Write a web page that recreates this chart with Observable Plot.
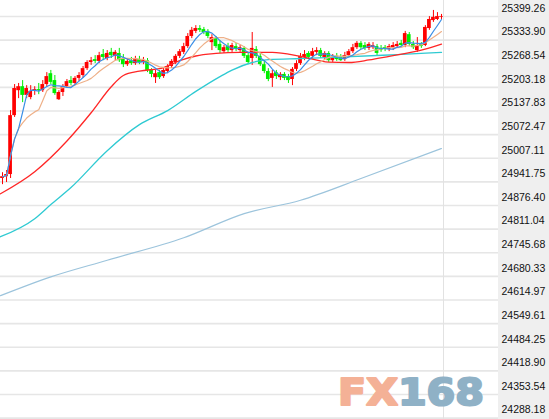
<!DOCTYPE html>
<html><head><meta charset="utf-8">
<script src="https://cdn.jsdelivr.net/npm/d3@7"></script>
<script src="https://cdn.jsdelivr.net/npm/@observablehq/plot@0.6"></script>
<style>
html,body{margin:0;padding:0;background:#fff;}
#wrap{position:relative;width:549px;height:419px;overflow:hidden;}
#wm{position:absolute;left:0;top:0;pointer-events:none;}
</style></head><body><div id="wrap"></div>
<script>
const open = [
24951,24956,24962,25125,25194,25205,25181,25175,25192,25197,
25194,25211,25241,25222,25169,25189,25205,25222,25214,25228,
25236,25255,25272,25280,25275,25294,25283,25300,25289,25297,
25283,25266,25277,25269,25280,25272,25277,25250,25230,25244,
25233,25247,25261,25272,25289,25300,25316,25344,25358,25366,
25363,25358,25327,25338,25322,25302,25316,25305,25316,25305,
25311,25291,25283,25308,25289,25266,25247,25228,25244,25230,
25239,25233,25225,25253,25269,25286,25297,25289,25300,25305,
25286,25297,25277,25289,25286,25280,25291,25302,25313,25325,
25319,25311,25313,25316,25311,25313,25308,25311,25316,25325,
25319,25349,25322,25305,25322,25319,25366,25388,25391,25397];
const high = [
24967,24973,25139,25211,25214,25222,25208,25208,25205,25214,
25222,25244,25250,25236,25194,25211,25225,25233,25233,25244,
25261,25277,25286,25291,25300,25308,25305,25311,25305,25311,
25294,25283,25286,25289,25289,25286,25283,25255,25250,25250,
25255,25266,25280,25294,25308,25325,25352,25369,25374,25374,
25369,25363,25349,25344,25333,25319,25325,25325,25325,25319,
25316,25300,25355,25316,25300,25277,25255,25250,25250,25244,
25244,25239,25258,25277,25297,25305,25302,25311,25313,25311,
25302,25302,25294,25297,25294,25300,25308,25322,25330,25330,
25327,25327,25327,25322,25319,25319,25322,25327,25330,25333,
25358,25355,25330,25341,25327,25374,25399,25416,25410,25405];
const low = [
24934,24940,24951,25120,25172,25161,25172,25169,25181,25183,
25189,25203,25211,25181,25167,25178,25200,25208,25208,25219,
25228,25250,25264,25269,25269,25277,25277,25283,25277,25272,
25258,25261,25264,25264,25266,25266,25244,25230,25214,25225,
25228,25241,25255,25266,25283,25294,25311,25338,25352,25355,
25349,25338,25305,25311,25297,25297,25300,25300,25302,25300,
25283,25266,25264,25283,25261,25241,25219,25203,25225,25222,
25222,25214,25208,25247,25264,25277,25280,25283,25291,25283,
25280,25272,25272,25275,25275,25275,25286,25297,25308,25308,
25305,25305,25308,25291,25300,25302,25302,25305,25311,25316,
25313,25316,25308,25300,25311,25316,25361,25383,25388,25391];
const close = [
24956,24962,25125,25200,25205,25181,25200,25192,25197,25194,
25211,25233,25217,25186,25189,25205,25219,25214,25228,25236,
25255,25272,25277,25275,25291,25286,25297,25291,25300,25277,
25266,25275,25269,25280,25272,25277,25250,25239,25241,25230,
25250,25261,25275,25289,25302,25316,25344,25361,25366,25361,
25355,25344,25341,25316,25305,25313,25305,25319,25308,25313,
25289,25272,25311,25289,25266,25247,25225,25241,25233,25239,
25228,25222,25253,25269,25289,25294,25286,25302,25305,25289,
25297,25277,25286,25280,25277,25291,25302,25313,25325,25313,
25311,25322,25319,25297,25305,25308,25316,25319,25322,25319,
25352,25322,25313,25319,25316,25369,25391,25397,25399,25399];

const tickValues = [25399.26,25333.90,25268.54,25203.18,25137.83,25072.47,25007.11,24941.75,24876.40,24811.04,24745.68,24680.33,24614.97,24549.61,24484.25,24418.90,24353.54,24288.18];

const maRedIdx = [-0.5,8,16,22,27,30,34,40,44,48,53,59,67,74,81,86,91,96,104,109];
const maRedVal = [24909,24970,25055,25133,25205,25236,25248,25258,25277,25290,25297,25300,25300,25289,25273,25272,25279,25289,25306,25323];
const maCyanIdx = [-0.5,8,12,17,26,34,41,48,54,57,62,66,74,82,98,109];
const maCyanVal = [24790,24840,24879,24926,25028,25100,25139,25192,25233,25251,25272,25280,25283,25286,25294,25300];
const maLightIdx = [-0.5,12,26,45,60,74,89,109];
const maLightVal = [24627,24679,24725,24787,24854,24891,24951,25034];

const N = close.length;
const candles = close.map((c, i) => ({i, o: open[i], h: high[i], l: low[i], c}));
const pts = (idx, val) => idx.map((i, k) => ({i, v: val[k]}));
const upCol = "#ff0000", downCol = "#00ee00";
const col = d => d.c >= d.o ? upCol : downCol;

const chart = Plot.plot({
  width: 549, height: 419,
  marginLeft: 0, marginRight: 51, marginTop: 0, marginBottom: 0,
  style: {background: "linear-gradient(to right,#ffffff 0px,#ffffff 498px,#efefef 498px)", fontFamily: "'Liberation Sans', Arial, sans-serif", fontSize: "10.5px", color: "#111"},
  x: {type: "linear", domain: [-0.5, N - 0.5], range: [0, 443], axis: null},
  y: {domain: [24288.18, 25399.26], range: [417.6, 16], axis: null},
  color: {type: "identity"},
  marks: [
    Plot.ruleY(tickValues, {stroke: "#e6e6e6", strokeWidth: 1.6}),
    Plot.ruleX([N - 0.5], {stroke: "#e2e2e2", strokeWidth: 1}),
    Plot.text(tickValues, {y: d => d, text: d => d.toFixed(2), frameAnchor: "right", textAnchor: "start", dx: 3, dy: -8, fill: "#111"}),
    Plot.ruleX(candles, {x: "i", y1: "l", y2: "h", stroke: col, strokeWidth: 1}),
    Plot.rect(candles, {x1: d => d.i - 0.46, x2: d => d.i + 0.46, y1: "o", y2: "c", fill: col}),
    Plot.line(pts(maLightIdx, maLightVal), {x: "i", y: "v", stroke: "#9cc4dc", strokeWidth: 1.2, curve: "monotone-x"}),
    Plot.line(pts(maCyanIdx, maCyanVal), {x: "i", y: "v", stroke: "#2fcad2", strokeWidth: 1.3, curve: "monotone-x"}),
    Plot.line(pts(maRedIdx, maRedVal), {x: "i", y: "v", stroke: "#ff2626", strokeWidth: 1.3, curve: "monotone-x"}),
    Plot.lineY(candles, Plot.windowY({k: 10, anchor: "end"}, {x: "i", y: "c", stroke: "#eeb088", strokeWidth: 1.2})),
    Plot.lineY(candles, Plot.windowY({k: 5, anchor: "end"}, {x: "i", y: "c", stroke: "#3a8ee6", strokeWidth: 1.2}))
  ]
});
const wrap = document.getElementById("wrap");
wrap.appendChild(chart);
wrap.insertAdjacentHTML("beforeend",
 '<svg id="wm" width="549" height="419"><text x="338" y="405" textLength="146" lengthAdjust="spacingAndGlyphs" font-family="DejaVu Sans" font-weight="bold" font-size="38" stroke-width="2.2" stroke-linejoin="round"><tspan fill="#f4b196" stroke="#f4b196">FX</tspan><tspan fill="#8fb1c6" stroke="#8fb1c6">168</tspan></text></svg>');
</script></body></html>
